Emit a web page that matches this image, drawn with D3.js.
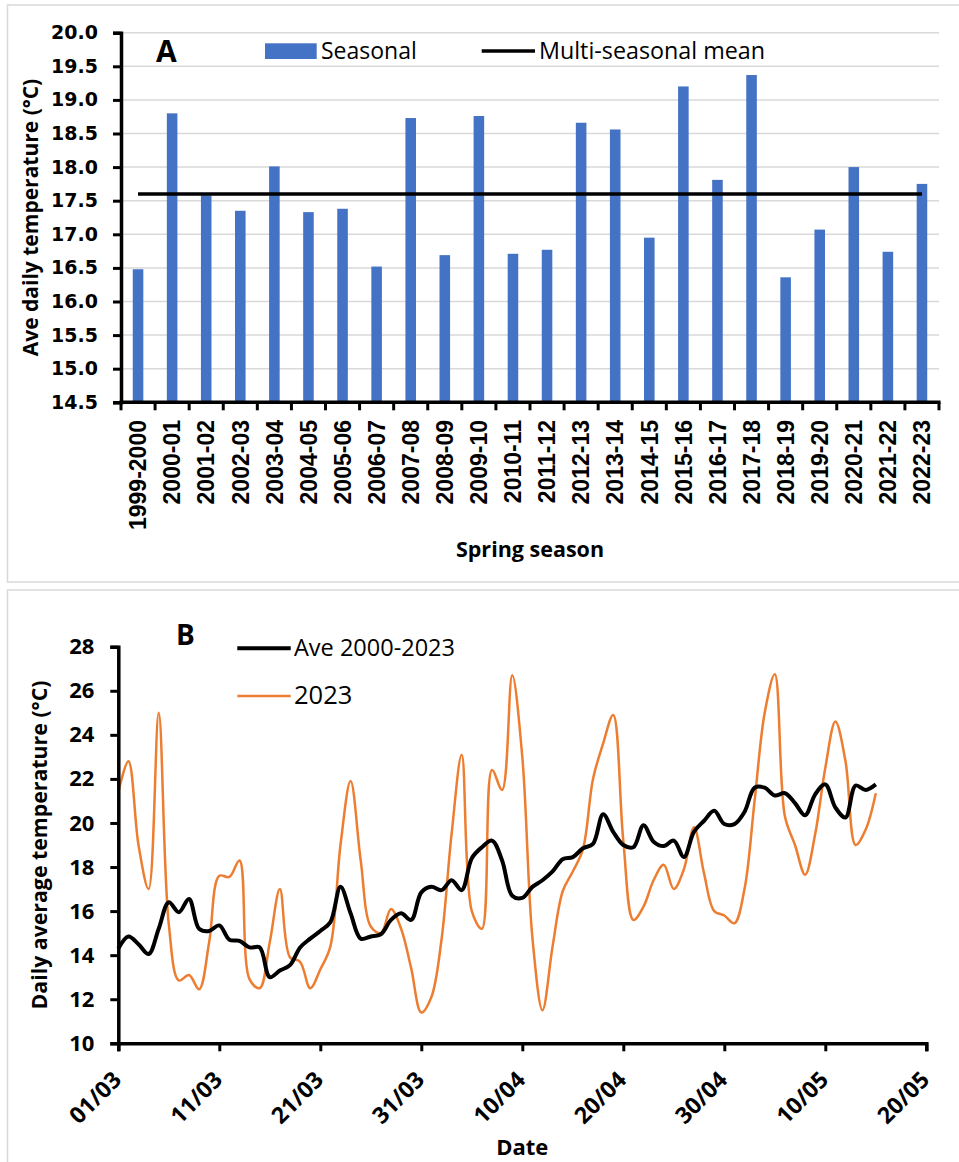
<!DOCTYPE html>
<html><head><meta charset="utf-8">
<script src="https://cdn.jsdelivr.net/npm/d3@7"></script>
<style>body{margin:0;background:#fff}</style>
</head><body>
<svg id="c" width="959" height="1162"></svg>
<script>
// ---------- Panel A data ----------
const seasons = ["1999-2000","2000-01","2001-02","2002-03","2003-04","2004-05","2005-06","2006-07","2007-08","2008-09","2009-10","2010-11","2011-12","2012-13","2013-14","2014-15","2015-16","2016-17","2017-18","2018-19","2019-20","2020-21","2021-22","2022-23"];
const seasonalTemp = [16.48,18.80,17.58,17.35,18.01,17.33,17.38,16.52,18.73,16.69,18.76,16.71,16.77,18.66,18.56,16.95,19.20,17.81,19.37,16.36,17.07,18.00,16.74,17.75];
const multiSeasonalMean = 17.6;
const yTicksA = [14.5,15.0,15.5,16.0,16.5,17.0,17.5,18.0,18.5,19.0,19.5,20.0];

// ---------- Panel B data ----------
const startDate = "2023-03-01";
const ave2000_2023 = [14.3,14.85,14.5,14.05,15.2,16.4,15.95,16.55,15.2,15.1,15.35,14.7,14.65,14.35,14.35,13.0,13.3,13.55,14.35,14.75,15.1,15.5,17.1,15.9,14.75,14.85,14.95,15.6,15.9,15.6,16.85,17.1,16.95,17.4,16.95,18.4,18.9,19.2,18.3,16.7,16.6,17.1,17.4,17.8,18.35,18.45,18.85,19.05,20.4,19.6,19.0,18.9,19.9,19.15,18.95,19.2,18.45,19.6,20.1,20.55,19.95,19.95,20.5,21.6,21.6,21.25,21.35,20.9,20.35,21.3,21.75,20.7,20.25,21.7,21.5,21.75];
const temp2023 = [21.4,22.8,19.0,17.0,25.0,15.4,12.85,13.1,12.45,14.6,17.6,17.55,18.3,12.9,12.5,14.6,17.0,13.9,13.7,12.5,13.35,14.4,19.0,21.9,18.3,15.3,15.0,16.1,15.2,13.4,11.4,12.1,14.7,19.5,23.1,16.0,15.2,22.4,21.5,26.7,23.0,14.8,11.5,14.4,16.9,17.8,18.8,22.0,23.6,24.9,19.2,15.6,16.2,17.4,18.1,17.0,17.9,19.8,17.7,16.0,15.8,15.45,17.0,21.0,25.0,26.75,20.3,19.0,17.65,19.5,22.5,24.6,22.8,19.0,19.7,21.35];
const xTickLabelsB = ["01/03","11/03","21/03","31/03","10/04","20/04","30/04","10/05","20/05"];
const yTicksB = [10,12,14,16,18,20,22,24,26,28];

const svg = d3.select("#c");
svg.append("rect").attr("width",959).attr("height",1162).attr("fill","#fff");

// frames
svg.append("rect").attr("x",7.5).attr("y",5).attr("width",970).attr("height",577)
  .attr("fill","none").attr("stroke","#d9d9d9").attr("stroke-width",1.5);
svg.append("rect").attr("x",7.5).attr("y",590).attr("width",970).attr("height",620)
  .attr("fill","none").attr("stroke","#d9d9d9").attr("stroke-width",1.5);

// ================= Panel A =================
const A = {left:121, right:939, top:32.7, bottom:402.3};
const xA = d3.scaleBand().domain(seasons).range([A.left, A.right])
  .paddingInner(0.69).paddingOuter(0.345);
const yA = d3.scaleLinear().domain([14.5,20]).range([A.bottom, A.top]);

const gA = svg.append("g");
gA.selectAll("line.grid").data(yTicksA.slice(1)).join("line")
  .attr("x1",A.left).attr("x2",A.right)
  .attr("y1",d=>yA(d)).attr("y2",d=>yA(d))
  .attr("stroke","#d9d9d9").attr("stroke-width",1.5);
gA.selectAll("rect.bar").data(seasons).join("rect")
  .attr("x",d=>xA(d)).attr("width",xA.bandwidth())
  .attr("y",(d,i)=>yA(seasonalTemp[i]))
  .attr("height",(d,i)=>yA(14.5)-yA(seasonalTemp[i]))
  .attr("fill","#4472C4");
gA.append("line")
  .attr("x1",xA(seasons[0])+xA.bandwidth()/2)
  .attr("x2",xA(seasons[seasons.length-1])+xA.bandwidth()/2)
  .attr("y1",yA(multiSeasonalMean)).attr("y2",yA(multiSeasonalMean))
  .attr("stroke","#000").attr("stroke-width",3.5);

const yAxisA = d3.axisLeft(yA).tickValues(yTicksA).tickSize(8).tickPadding(15).tickFormat(d3.format(".1f"));
const gyA = gA.append("g").attr("transform",`translate(${A.left},0)`).call(yAxisA);
gyA.select(".domain").attr("stroke","#000").attr("stroke-width",3.5);
gyA.selectAll(".tick line").attr("stroke","#000").attr("stroke-width",3);
gyA.selectAll(".tick text").attr("font-family","DejaVu Sans").attr("font-weight","bold")
  .attr("font-size",19).attr("fill","#000");

const boundaries = d3.range(seasons.length+1).map(i=>A.left + i*(A.right-A.left)/seasons.length);
gA.append("line").attr("x1",A.left-1.5).attr("x2",A.right+1.5).attr("y1",A.bottom).attr("y2",A.bottom)
  .attr("stroke","#000").attr("stroke-width",3.5);
gA.selectAll("line.xt").data(boundaries).join("line")
  .attr("x1",d=>d).attr("x2",d=>d).attr("y1",A.bottom).attr("y2",A.bottom+8)
  .attr("stroke","#000").attr("stroke-width",3);
gA.selectAll("text.xl").data(seasons).join("text")
  .attr("transform",d=>`translate(${xA(d)+xA.bandwidth()/2},420) rotate(-90)`)
  .attr("text-anchor","end").attr("dy","0.36em")
  .attr("font-family","Liberation Sans").attr("font-weight","bold").attr("font-size",23)
  .attr("fill","#000").text(d=>d);

gA.append("text").attr("transform",`translate(37.5,${(A.top+A.bottom)/2}) rotate(-90)`)
  .attr("text-anchor","middle").attr("font-family","Open Sans").attr("font-weight","bold")
  .attr("font-size",21).text("Ave daily temperature (°C)");
gA.append("text").attr("x",(A.left+A.right)/2).attr("y",557).attr("text-anchor","middle")
  .attr("font-family","Open Sans").attr("font-weight","bold").attr("font-size",21.5).text("Spring season");
gA.append("text").attr("x",156).attr("y",61.5).attr("font-family","Open Sans").attr("font-weight","bold")
  .attr("font-size",30).text("A");
gA.append("rect").attr("x",265).attr("y",43.3).attr("width",51.7).attr("height",15.7).attr("fill","#4472C4");
gA.append("text").attr("x",321).attr("y",59).attr("font-family","Open Sans").attr("font-size",23).text("Seasonal");
gA.append("line").attr("x1",481.7).attr("x2",535).attr("y1",51).attr("y2",51).attr("stroke","#000").attr("stroke-width",3.5);
gA.append("text").attr("x",539).attr("y",59).attr("font-family","Open Sans").attr("font-size",23.3).text("Multi-seasonal mean");

// ================= Panel B =================
const B = {left:118.3, right:926.3, top:646.7, bottom:1043.3};
const parse = d3.timeParse("%Y-%m-%d");
const d0 = parse(startDate);
const dates = ave2000_2023.map((v,i)=>d3.timeDay.offset(d0,i));
const tickDates = xTickLabelsB.map(s=>{const [dd,mm]=s.split("/"); return parse(`2023-${mm}-${dd}`);});
const xB = d3.scaleTime().domain([tickDates[0], tickDates[tickDates.length-1]]).range([B.left,B.right]);
const yB = d3.scaleLinear().domain([10,28]).range([B.bottom,B.top]);

const gB = svg.append("g");
const line = d3.line().x((d,i)=>xB(dates[i])).y(d=>yB(d)).curve(d3.curveCatmullRom.alpha(0.5));
gB.append("path").datum(temp2023).attr("d",line).attr("fill","none")
  .attr("stroke","#ED7D31").attr("stroke-width",2.5);
gB.append("path").datum(ave2000_2023).attr("d",line).attr("fill","none")
  .attr("stroke","#000").attr("stroke-width",4).attr("stroke-linejoin","round");

const yAxisB = d3.axisLeft(yB).tickValues(yTicksB).tickSize(8).tickPadding(16);
const gyB = gB.append("g").attr("transform",`translate(${B.left},0)`).call(yAxisB);
gyB.select(".domain").attr("stroke","#000").attr("stroke-width",3.5);
gyB.selectAll(".tick line").attr("stroke","#000").attr("stroke-width",3);
gyB.selectAll(".tick text").attr("font-family","Open Sans").attr("font-weight","bold")
  .attr("font-size",22).attr("fill","#000");

const xAxisB = d3.axisBottom(xB).tickValues(tickDates).tickSize(8).tickFormat((d,i)=>xTickLabelsB[i]);
const gxB = gB.append("g").attr("transform",`translate(0,${B.bottom})`).call(xAxisB);
gxB.select(".domain").attr("stroke","#000").attr("stroke-width",3.5);
gxB.selectAll(".tick line").attr("stroke","#000").attr("stroke-width",3);
gxB.selectAll(".tick text").attr("font-family","Open Sans").attr("font-weight","bold")
  .attr("font-size",23).attr("fill","#000")
  .attr("text-anchor","end").attr("y",0).attr("dy",0)
  .attr("transform","translate(4,38) rotate(-45)");

gB.append("text").attr("transform",`translate(47,${(B.top+B.bottom)/2}) rotate(-90)`)
  .attr("text-anchor","middle").attr("font-family","Open Sans").attr("font-weight","bold")
  .attr("font-size",21.3).text("Daily average temperature (°C)");
gB.append("text").attr("x",(B.left+B.right)/2).attr("y",1155).attr("text-anchor","middle")
  .attr("font-family","Open Sans").attr("font-weight","bold").attr("font-size",22).text("Date");
gB.append("text").attr("x",176).attr("y",645).attr("font-family","Open Sans").attr("font-weight","bold")
  .attr("font-size",28).text("B");
gB.append("line").attr("x1",237.3).attr("x2",290.7).attr("y1",648.3).attr("y2",648.3).attr("stroke","#000").attr("stroke-width",4);
gB.append("text").attr("x",294).attr("y",656).attr("font-family","Open Sans").attr("font-size",23.5).text("Ave 2000-2023");
gB.append("line").attr("x1",237.3).attr("x2",290.7).attr("y1",696).attr("y2",696).attr("stroke","#ED7D31").attr("stroke-width",2.5);
gB.append("text").attr("x",294).attr("y",704).attr("font-family","Open Sans").attr("font-size",25.5).text("2023");
</script>
</body></html>
